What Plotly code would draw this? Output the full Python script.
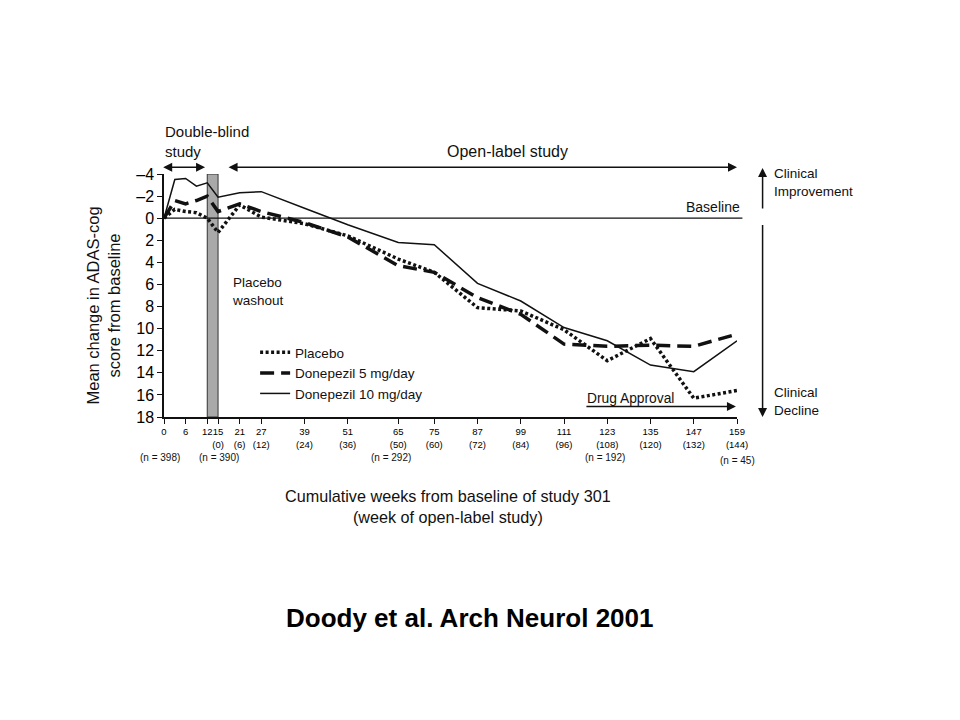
import plotly.graph_objects as go

# ---- data ----
weeks = [0, 3, 6, 9, 12, 15, 21, 27, 39, 51, 65, 75, 87, 99, 111, 123, 135, 147, 159]
placebo = [0, -0.8, -0.6, -0.5, 0.0, 1.3, -1.2, -0.1, 0.5, 1.6, 3.7, 4.9, 8.1, 8.4, 10.1, 12.9, 10.9, 16.3, 15.6]
donepezil5 = [0, -1.6, -1.3, -1.6, -2.0, -0.6, -1.3, -0.6, 0.4, 1.7, 4.3, 4.9, 7.2, 8.7, 11.4, 11.6, 11.5, 11.6, 10.5]
donepezil10 = [0, -3.5, -3.6, -2.9, -3.2, -1.9, -2.3, -2.4, -0.9, 0.6, 2.2, 2.4, 5.9, 7.5, 9.9, 11.1, 13.3, 13.9, 11.1]

x_tick_weeks = [0, 6, 12, 15, 21, 27, 39, 51, 65, 75, 87, 99, 111, 123, 135, 147, 159]
open_label_start = 15
y_tick_vals = [-4, -2, 0, 2, 4, 6, 8, 10, 12, 14, 16, 18]
y_tick_text = ["\u20134", "\u20132", "0", "2", "4", "6", "8", "10", "12", "14", "16", "18"]

n_label_weeks = [-1.1, 15.3, 63, 122.4, 159]
n_label_text = ["(n = 398)", "(n = 390)", "(n = 292)", "(n = 192)", "(n = 45)"]
n_label_y = [21.7, 21.7, 21.7, 21.7, 21.9]

X_RANGE = [0, 159]
Y_RANGE = [18, -4]

FONT = "Liberation Sans, Arial, sans-serif"
INK = "#111111"

PLOT_W, PLOT_H = 573, 243
PX_PER_WEEK = PLOT_W / (X_RANGE[1] - X_RANGE[0])
PX_PER_UNIT = PLOT_H / (Y_RANGE[0] - Y_RANGE[1])


def px(week):
    return (week - X_RANGE[0]) / (X_RANGE[1] - X_RANGE[0])


def py(val):
    return (Y_RANGE[0] - val) / (Y_RANGE[0] - Y_RANGE[1])


def tick_label(w):
    if w < open_label_start:
        return str(w)
    return f"{w}<br>({w - open_label_start})"


x_tick_text = [tick_label(w) for w in x_tick_weeks]

fig = go.Figure()
fig.add_trace(go.Scatter(x=weeks, y=placebo, mode="lines", name="Placebo",
                         line=dict(color=INK, width=3.5, dash="3px,2.5px")))
fig.add_trace(go.Scatter(x=weeks, y=donepezil5, mode="lines", name="Donepezil 5 mg/day",
                         line=dict(color=INK, width=3.5, dash="14px,7px")))
fig.add_trace(go.Scatter(x=weeks, y=donepezil10, mode="lines", name="Donepezil 10 mg/day",
                         line=dict(color=INK, width=1.5)))

shapes = [
    dict(type="rect", xref="x", yref="y", x0=12, x1=15, y0=-4, y1=18,
         fillcolor="#a9a9a9", line=dict(color="#333333", width=1), layer="below"),
    dict(type="line", xref="paper", yref="y", x0=0, x1=px(160.5), y0=0, y1=0,
         line=dict(color=INK, width=1.3)),
]


def arrow(x0, y0, x1, y1, both=False):
    return dict(x=px(x1), y=py(y1), xref="paper", yref="paper",
                ax=(x0 - x1) * PX_PER_WEEK, ay=(y0 - y1) * PX_PER_UNIT, axref="pixel", ayref="pixel",
                text="", showarrow=True, arrowhead=2, startarrowhead=2,
                arrowside="end+start" if both else "end",
                arrowsize=1.2, startarrowsize=1.2, arrowwidth=1.5, arrowcolor=INK)


def label(x, y, text, size, xanchor="left", **kw):
    d = dict(x=px(x), y=py(y), xref="paper", yref="paper", text=text, showarrow=False,
             xanchor=xanchor, yanchor="middle", align=xanchor,
             font=dict(family=FONT, size=size, color=INK))
    d.update(kw)
    return d


annotations = [
    arrow(-0.65, -4.6, 11.4, -4.6, both=True),
    arrow(17.5, -4.6, 159, -4.6, both=True),
    arrow(116.8, 17.06, 158.7, 17.06),
    arrow(166.1, -0.73, 166.1, -4.55),
    arrow(166.1, 0.48, 166.1, 18.0),
    label(-0.4, -6.9, "Double-blind<br>study", 15),
    label(95.4, -6.0, "Open-label study", 16, xanchor="center"),
    label(160.4, -1.0, "Baseline", 14, xanchor="right"),
    label(18.3, 6.6, "Placebo<br>washout", 13.5),
    label(116.8, 16.3, "Drug Approval", 13.8),
    label(168.7, -3.27, "Clinical<br>Improvement", 13.5),
    label(168.7, 16.6, "Clinical<br>Decline", 13.5),
    label(78.8, 26.1, "Cumulative weeks from baseline of study 301<br>(week of open-label study)", 16.2,
          xanchor="center"),
    label(-16.9, 7.9, "Mean change in ADAS-cog<br>score from baseline", 16.5, xanchor="center",
          textangle=-90),
    dict(x=px(84.9), y=py(36.2), xref="paper", yref="paper", showarrow=False,
         text="<b>Doody et al. Arch Neurol 2001</b>", xanchor="center", yanchor="middle",
         font=dict(family=FONT, size=26, color="#000000")),
]
for xw, yv, t in zip(n_label_weeks, n_label_y, n_label_text):
    annotations.append(label(xw, yv, t, 10, xanchor="center"))

fig.update_layout(
    width=960, height=720,
    margin=dict(l=156, r=960 - 156 - PLOT_W, t=166, b=720 - 166 - PLOT_H, autoexpand=False),
    paper_bgcolor="white", plot_bgcolor="white",
    font=dict(family=FONT, color=INK),
    showlegend=True,
    legend=dict(x=0.159, y=0.329, xanchor="left", yanchor="top",
                bgcolor="rgba(0,0,0,0)", font=dict(family=FONT, size=13.5, color=INK),
                tracegroupgap=0),
    hovermode=False,
    shapes=shapes,
    annotations=annotations,
    xaxis=dict(range=X_RANGE, tickmode="array", tickvals=x_tick_weeks, ticktext=x_tick_text,
               tickangle=0,
               showgrid=False, zeroline=False, showline=True, linecolor=INK, linewidth=1.5,
               ticks="outside", ticklen=5, tickwidth=1.3, tickcolor=INK,
               tickfont=dict(family=FONT, size=9.5, color="#000000")),
    yaxis=dict(range=Y_RANGE, tickmode="array", tickvals=y_tick_vals, ticktext=y_tick_text,
               showgrid=False, zeroline=False, showline=True, linecolor=INK, linewidth=1.5,
               ticks="outside", ticklen=5, tickwidth=1.3, tickcolor=INK,
               tickfont=dict(family=FONT, size=16, color="#000000")),
)

fig.write_html("out.html", config={"displayModeBar": False})
